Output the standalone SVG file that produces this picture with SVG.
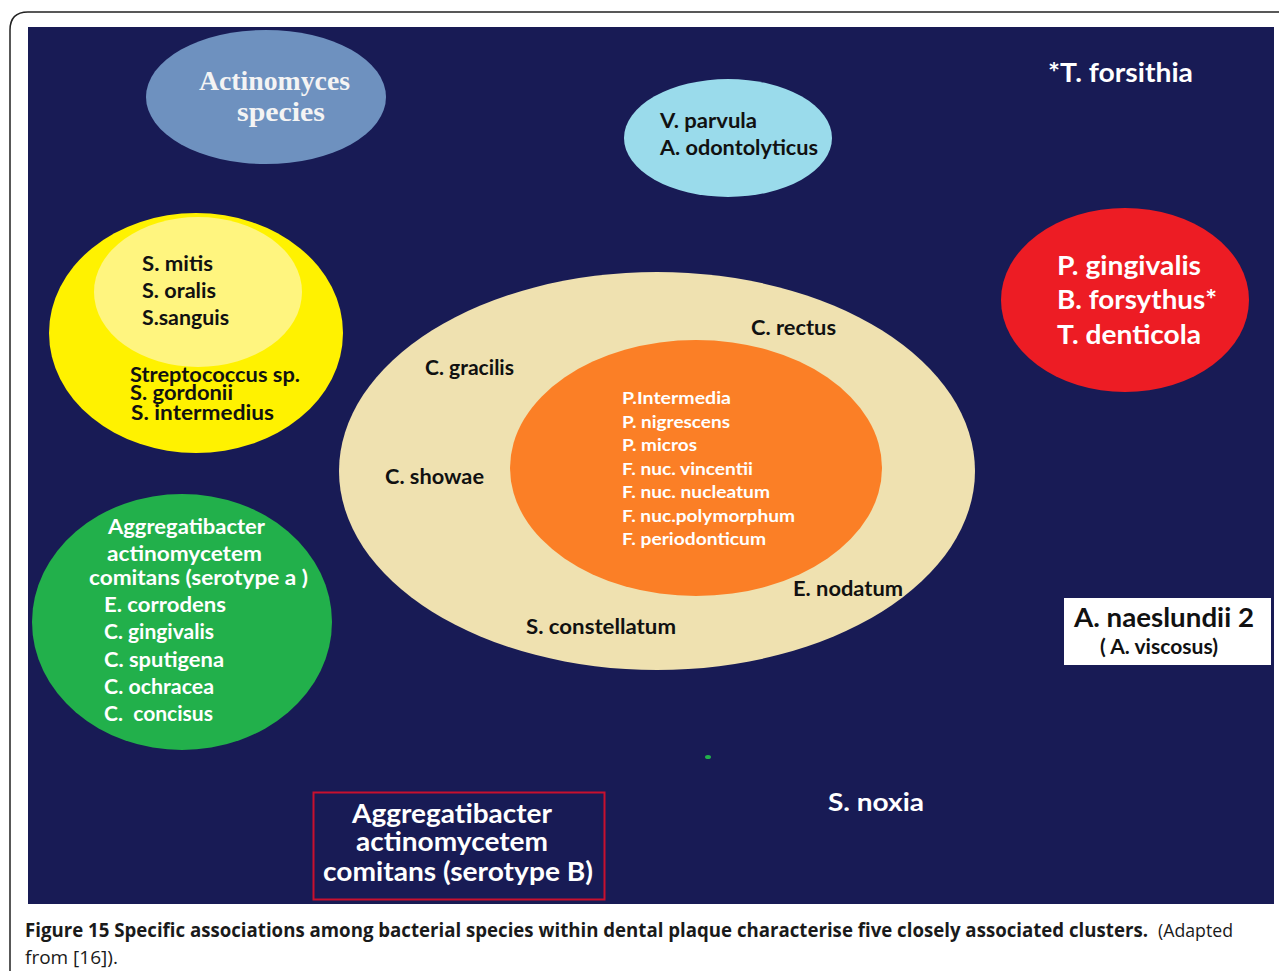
<svg xmlns="http://www.w3.org/2000/svg" width="1279" height="971" viewBox="0 0 1279 971">
<style>
.t{font-family:Lato,"Open Sans","Liberation Sans",sans-serif;font-weight:bold}
.dk{fill:#111111}
.wh{fill:#ffffff}
.cap{font-family:"Open Sans","Liberation Sans",sans-serif;font-size:19px;fill:#1a1a1a}
</style>
<rect x="0" y="0" width="1279" height="971" fill="#ffffff"/>
<path d="M10 1000 V30 Q10 12 28 12 H1300" fill="none" stroke="#222" stroke-width="1.5"/>
<rect x="28" y="27" width="1246" height="877" fill="#181b55"/>
<g id="actinomyces">
<ellipse cx="266" cy="97" rx="120" ry="67" fill="#6e91bf"/>
<text x="199" y="90" font-family="Liberation Serif,serif" font-weight="bold" font-size="27" fill="#f4f4f4" textLength="151" lengthAdjust="spacingAndGlyphs">Actinomyces</text>
<text x="237" y="121" font-family="Liberation Serif,serif" font-weight="bold" font-size="27" fill="#f4f4f4" textLength="88" lengthAdjust="spacingAndGlyphs">species</text>
</g>
<g id="vparvula">
<ellipse cx="728" cy="138" rx="104" ry="59" fill="#9adbeb"/>
<text class="t dk" font-size="21" x="660" y="128" textLength="97" lengthAdjust="spacingAndGlyphs">V. parvula</text>
<text class="t dk" font-size="21" x="660" y="155" textLength="158" lengthAdjust="spacingAndGlyphs">A. odontolyticus</text>
</g>
<g id="tforsithia">
<text class="t wh" font-size="26" x="1048" y="82" textLength="145" lengthAdjust="spacingAndGlyphs">*T. forsithia</text>
</g>
<g id="yellow">
<ellipse cx="196" cy="333" rx="147" ry="120" fill="#fff200"/>
<ellipse cx="198" cy="292" rx="104" ry="75" fill="#fff57f"/>
<text class="t dk" font-size="21" x="142" y="271" textLength="71" lengthAdjust="spacingAndGlyphs">S. mitis</text>
<text class="t dk" font-size="21" x="142" y="298" textLength="74" lengthAdjust="spacingAndGlyphs">S. oralis</text>
<text class="t dk" font-size="21" x="142" y="325" textLength="87" lengthAdjust="spacingAndGlyphs">S.sanguis</text>
<text class="t dk" font-size="20" x="130" y="382" textLength="170" lengthAdjust="spacingAndGlyphs">Streptococcus sp.</text>
<text class="t dk" font-size="20" x="130" y="400" textLength="103" lengthAdjust="spacingAndGlyphs">S. gordonii</text>
<text class="t dk" font-size="20" x="131" y="420" textLength="143" lengthAdjust="spacingAndGlyphs">S. intermedius</text>
</g>
<g id="orangecluster">
<ellipse cx="657" cy="471" rx="318" ry="199" fill="#efe1b0"/>
<ellipse cx="696" cy="468" rx="186" ry="128" fill="#fb7f26"/>
<text class="t dk" font-size="21" x="751" y="335" textLength="85" lengthAdjust="spacingAndGlyphs">C. rectus</text>
<text class="t dk" font-size="21" x="425" y="375" textLength="89" lengthAdjust="spacingAndGlyphs">C. gracilis</text>
<text class="t dk" font-size="21" x="385" y="484" textLength="99" lengthAdjust="spacingAndGlyphs">C. showae</text>
<text class="t dk" font-size="21" x="793" y="596" textLength="110" lengthAdjust="spacingAndGlyphs">E. nodatum</text>
<text class="t dk" font-size="21" x="526" y="634" textLength="150" lengthAdjust="spacingAndGlyphs">S. constellatum</text>
<text class="t wh" font-size="17" x="622" y="404" textLength="109" lengthAdjust="spacingAndGlyphs">P.Intermedia</text>
<text class="t wh" font-size="17" x="622" y="428" textLength="108" lengthAdjust="spacingAndGlyphs">P. nigrescens</text>
<text class="t wh" font-size="17" x="622" y="451" textLength="75" lengthAdjust="spacingAndGlyphs">P. micros</text>
<text class="t wh" font-size="17" x="622" y="475" textLength="131" lengthAdjust="spacingAndGlyphs">F. nuc. vincentii</text>
<text class="t wh" font-size="17" x="622" y="498" textLength="148" lengthAdjust="spacingAndGlyphs">F. nuc. nucleatum</text>
<text class="t wh" font-size="17" x="622" y="522" textLength="173" lengthAdjust="spacingAndGlyphs">F. nuc.polymorphum</text>
<text class="t wh" font-size="17" x="622" y="545" textLength="144" lengthAdjust="spacingAndGlyphs">F. periodonticum</text>
</g>
<g id="green">
<ellipse cx="182" cy="622" rx="150" ry="128" fill="#22b04b"/>
<text class="t wh" font-size="21" x="108" y="534" textLength="157" lengthAdjust="spacingAndGlyphs">Aggregatibacter</text>
<text class="t wh" font-size="21" x="107" y="561" textLength="155" lengthAdjust="spacingAndGlyphs">actinomycetem</text>
<text class="t wh" font-size="21" x="89" y="585" textLength="219" lengthAdjust="spacingAndGlyphs">comitans (serotype a )</text>
<text class="t wh" font-size="21" x="104" y="612" textLength="122" lengthAdjust="spacingAndGlyphs">E. corrodens</text>
<text class="t wh" font-size="21" x="104" y="639" textLength="110" lengthAdjust="spacingAndGlyphs">C. gingivalis</text>
<text class="t wh" font-size="21" x="104" y="667" textLength="120" lengthAdjust="spacingAndGlyphs">C. sputigena</text>
<text class="t wh" font-size="21" x="104" y="694" textLength="110" lengthAdjust="spacingAndGlyphs">C. ochracea</text>
<text class="t wh" font-size="21" x="104" y="721" xml:space="preserve" textLength="109" lengthAdjust="spacingAndGlyphs">C.  concisus</text>
</g>
<g id="red">
<ellipse cx="1125" cy="300" rx="124" ry="92" fill="#ed1c24"/>
<text class="t wh" font-size="26" x="1057" y="275" textLength="144" lengthAdjust="spacingAndGlyphs">P. gingivalis</text>
<text class="t wh" font-size="26" x="1057" y="309" textLength="160" lengthAdjust="spacingAndGlyphs">B. forsythus*</text>
<text class="t wh" font-size="26" x="1057" y="344" textLength="144" lengthAdjust="spacingAndGlyphs">T. denticola</text>
</g>
<g id="naeslundii">
<rect x="1064" y="598" width="207" height="67" fill="#ffffff"/>
<text class="t dk" font-size="26" x="1074" y="627" textLength="180" lengthAdjust="spacingAndGlyphs">A. naeslundii 2</text>
<text class="t dk" font-size="20" x="1100" y="654" textLength="118" lengthAdjust="spacingAndGlyphs">( A. viscosus)</text>
</g>
<g id="serotypeB">
<rect x="313.5" y="792.5" width="291" height="107" fill="none" stroke="#c8102e" stroke-width="2"/>
<text class="t wh" font-size="26" x="352" y="823" textLength="200" lengthAdjust="spacingAndGlyphs">Aggregatibacter</text>
<text class="t wh" font-size="26" x="356" y="851" textLength="192" lengthAdjust="spacingAndGlyphs">actinomycetem</text>
<text class="t wh" font-size="26" x="323" y="881" textLength="270" lengthAdjust="spacingAndGlyphs">comitans (serotype B)</text>
</g>
<g id="snoxia">
<text class="t wh" font-size="24" x="828" y="811" textLength="96" lengthAdjust="spacingAndGlyphs">S. noxia</text>
</g>
<ellipse cx="708" cy="757" rx="3" ry="2" fill="#22b04b"/>
<g id="connectors"/>
<text class="cap" x="25" y="937" font-weight="bold" textLength="1123" lengthAdjust="spacingAndGlyphs">Figure 15 Specific associations among bacterial species within dental plaque characterise five closely associated clusters.</text>
<text class="cap" x="1158" y="937" fill="#555" textLength="75" lengthAdjust="spacingAndGlyphs">(Adapted</text>
<text class="cap" x="25" y="964" fill="#555">from [16]).</text>
</svg>
